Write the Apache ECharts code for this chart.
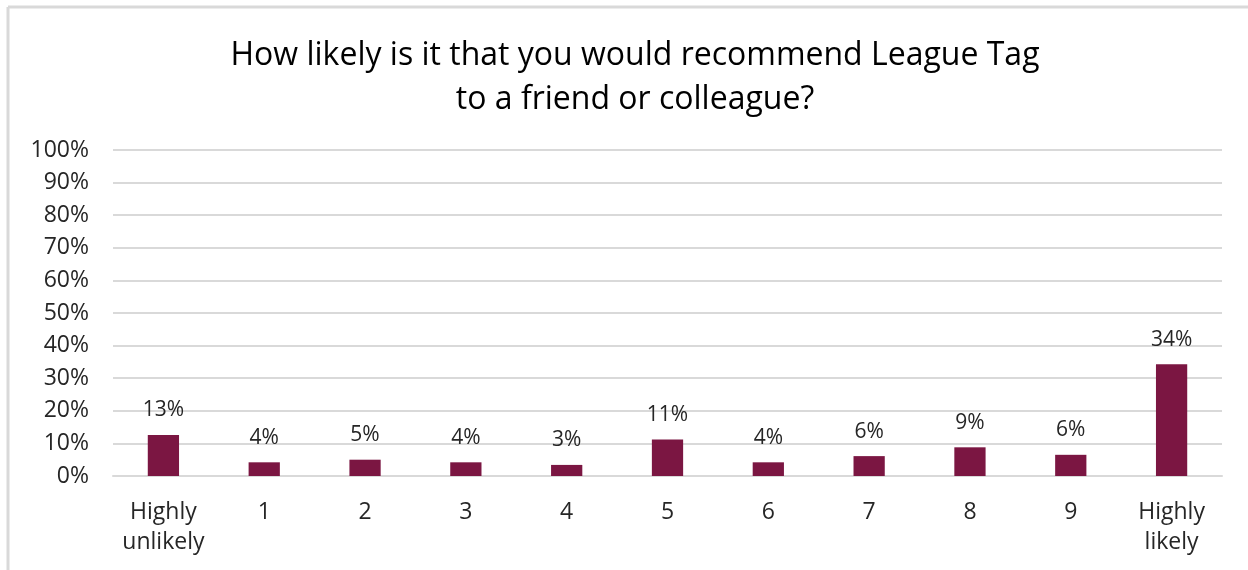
<!DOCTYPE html>
<html>
<head>
<meta charset="utf-8">
<script src="https://cdn.jsdelivr.net/npm/echarts@6/dist/echarts.min.js"></script>
<style>
html,body{margin:0;padding:0;background:#fff;}
#chart{width:1248px;height:570px;}
</style>
</head>
<body>
<div id="chart"></div>
<script>
const titleText = 'How likely is it that you would recommend League Tag\nto a friend or colleague?';
const categories = ['Highly\nunlikely', '1', '2', '3', '4', '5', '6', '7', '8', '9', 'Highly\nlikely'];
const values = [12.6, 4.2, 5.0, 4.2, 3.4, 11.2, 4.2, 6.1, 8.8, 6.5, 34.3];
const labelValues = [13, 4, 5, 4, 3, 11, 4, 6, 9, 6, 34];

const chart = echarts.init(document.getElementById('chart'), null, {renderer: 'canvas'});
const font = "'Open Sans', sans-serif";
chart.setOption({
  animation: false,
  backgroundColor: '#fff',
  graphic: [
    {type: 'line', shape: {x1: 8, y1: 7, x2: 1248, y2: 7}, style: {stroke: '#d9d9d9', lineWidth: 3}},
    {type: 'line', shape: {x1: 8, y1: 7, x2: 8, y2: 570}, style: {stroke: '#d9d9d9', lineWidth: 3}}
  ],
  title: {
    text: titleText,
    left: 630, top: 29, textAlign: 'center',
    textStyle: {fontFamily: font, fontSize: 32, fontWeight: 'normal', color: '#000', lineHeight: 44}
  },
  grid: {left: 113, right: 26, top: 150, bottom: 94, containLabel: false},
  xAxis: {
    type: 'category', data: categories,
    axisLine: {show: true, lineStyle: {color: '#d9d9d9', width: 2}},
    axisTick: {show: false},
    axisLabel: {interval: 0, fontFamily: font, fontSize: 23, color: '#262626', lineHeight: 30, margin: 21}
  },
  yAxis: {
    type: 'value', min: 0, max: 100, interval: 10,
    axisLine: {show: false}, axisTick: {show: false},
    splitLine: {lineStyle: {color: '#d9d9d9', width: 2}},
    axisLabel: {fontFamily: font, fontSize: 23, color: '#262626', margin: 24, formatter: v => v + '%'}
  },
  series: [{
    type: 'bar', data: values, barWidth: '31%',
    itemStyle: {color: '#7b1642'},
    label: {
      show: true, position: 'top', distance: 14,
      fontFamily: font, fontSize: 21, color: '#262626',
      formatter: p => labelValues[p.dataIndex] + '%'
    }
  }]
});
</script>
</body>
</html>
